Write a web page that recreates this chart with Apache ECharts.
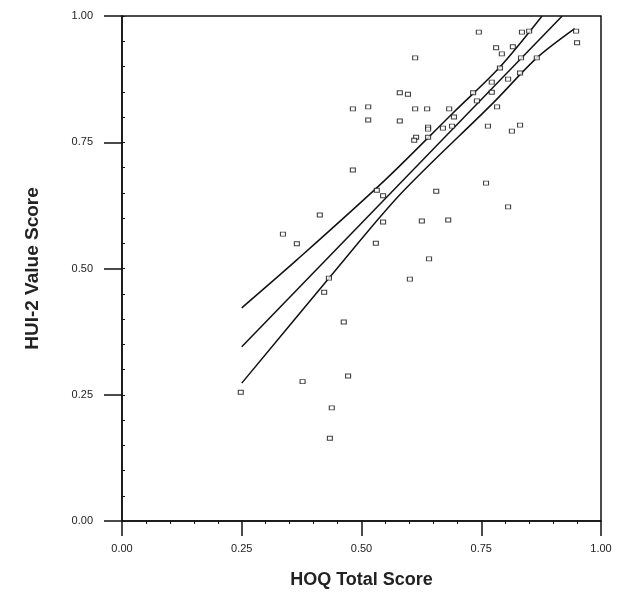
<!DOCTYPE html>
<html>
<head>
<meta charset="utf-8">
<script src="https://cdn.jsdelivr.net/npm/echarts@6/dist/echarts.min.js"></script>
<style>
html,body{margin:0;padding:0;background:#fff;}
#chart{width:618px;height:595px;}
</style>
</head>
<body>
<div id="chart"></div>
<script>
const xTitle = 'HOQ Total Score';
const yTitle = 'HUI-2 Value Score';
const tickLabels = ['0.00','0.25','0.50','0.75','1.00'];

// scatter points [HOQ total, HUI-2 value]
const points = [
  [0.248,0.255],[0.336,0.568],[0.365,0.549],[0.413,0.606],[0.377,0.276],[0.463,0.394],
  [0.472,0.287],[0.438,0.224],[0.434,0.164],[0.432,0.481],[0.422,0.453],[0.530,0.550],
  [0.545,0.592],[0.532,0.655],[0.545,0.644],[0.601,0.479],[0.626,0.594],[0.641,0.519],
  [0.681,0.596],[0.745,0.968],[0.835,0.968],[0.850,0.970],[0.781,0.937],[0.816,0.939],
  [0.793,0.925],[0.948,0.970],[0.950,0.947],[0.833,0.917],[0.866,0.917],[0.612,0.917],
  [0.789,0.897],[0.806,0.875],[0.831,0.887],[0.772,0.869],[0.733,0.848],[0.772,0.849],
  [0.580,0.848],[0.597,0.845],[0.741,0.832],[0.783,0.820],[0.482,0.816],[0.514,0.820],
  [0.612,0.816],[0.637,0.816],[0.683,0.816],[0.514,0.794],[0.580,0.792],[0.693,0.800],
  [0.639,0.780],[0.639,0.776],[0.670,0.778],[0.689,0.782],[0.614,0.760],[0.610,0.754],
  [0.639,0.760],[0.764,0.782],[0.814,0.772],[0.831,0.784],[0.482,0.695],[0.760,0.669],
  [0.656,0.653],[0.806,0.622]
];

// regression line and confidence band lines
const fitLine = [[0.25,0.345],[0.919,1.0]];
const upperBand = [[0.25,0.422],[0.365,0.517],[0.549,0.675],[0.691,0.808],[0.789,0.899],[0.877,1.0]];
const lowerBand = [[0.25,0.273],[0.434,0.483],[0.58,0.646],[0.775,0.828],[0.866,0.917],[0.945,0.975]];

const chart = echarts.init(document.getElementById('chart'), null, {renderer:'canvas'});
const lineStyle = {color:'#111', width:1.5};
const labelStyle = {fontFamily:'Arial, Liberation Sans, sans-serif', fontSize:11, color:'#222'};
const fmt = v => tickLabels[Math.round(v/0.25)] || '';

chart.setOption({
  backgroundColor:'#fff',
  animation:false,
  grid:{left:122, right:17, top:16, bottom:74, show:true, borderColor:'#111', borderWidth:1.5, backgroundColor:'transparent'},
  xAxis:{
    type:'value', min:0, max:1, interval:0.25,
    name:xTitle, nameLocation:'middle', nameGap:50,
    nameTextStyle:{fontFamily:'Arial, Liberation Sans, sans-serif', fontSize:18, fontWeight:'bold', color:'#222'},
    axisLine:{show:true, onZero:false, lineStyle:{color:'#111', width:1.5}},
    axisTick:{show:true, length:15, lineStyle:{color:'#111', width:1.5}},
    minorTick:{show:true, splitNumber:5, length:3, lineStyle:{color:'#111', width:1}},
    axisLabel:Object.assign({margin:22, formatter:fmt}, labelStyle),
    splitLine:{show:false}
  },
  yAxis:[{
    type:'value', min:0, max:1, interval:0.25, position:'left',
    name:yTitle, nameLocation:'middle', nameGap:80,
    nameTextStyle:{fontFamily:'Arial, Liberation Sans, sans-serif', fontSize:19, fontWeight:'bold', color:'#222'},
    axisLine:{show:true, onZero:false, lineStyle:{color:'#111', width:1.5}},
    axisTick:{show:true, length:18, lineStyle:{color:'#111', width:1.5}},
    axisLabel:Object.assign({margin:29, formatter:fmt}, labelStyle),
    splitLine:{show:false}
  },{
    type:'value', min:0, max:1, interval:0.05, position:'left', offset:0,
    axisLine:{show:false},
    axisTick:{show:true, inside:true, length:3, lineStyle:{color:'#111', width:1}},
    axisLabel:{show:false},
    splitLine:{show:false}
  }],
  series:[
    {type:'scatter', data:points, symbol:'rect', symbolSize:[5,4],
     itemStyle:{color:'#fff', borderColor:'#111', borderWidth:1}, z:3},
    {type:'line', data:fitLine, symbol:'none', lineStyle:lineStyle, clip:true, z:2},
    {type:'line', data:upperBand, symbol:'none', smooth:0.3, lineStyle:lineStyle, clip:true, z:2},
    {type:'line', data:lowerBand, symbol:'none', smooth:0.3, lineStyle:lineStyle, clip:true, z:2}
  ]
});
</script>
</body>
</html>
